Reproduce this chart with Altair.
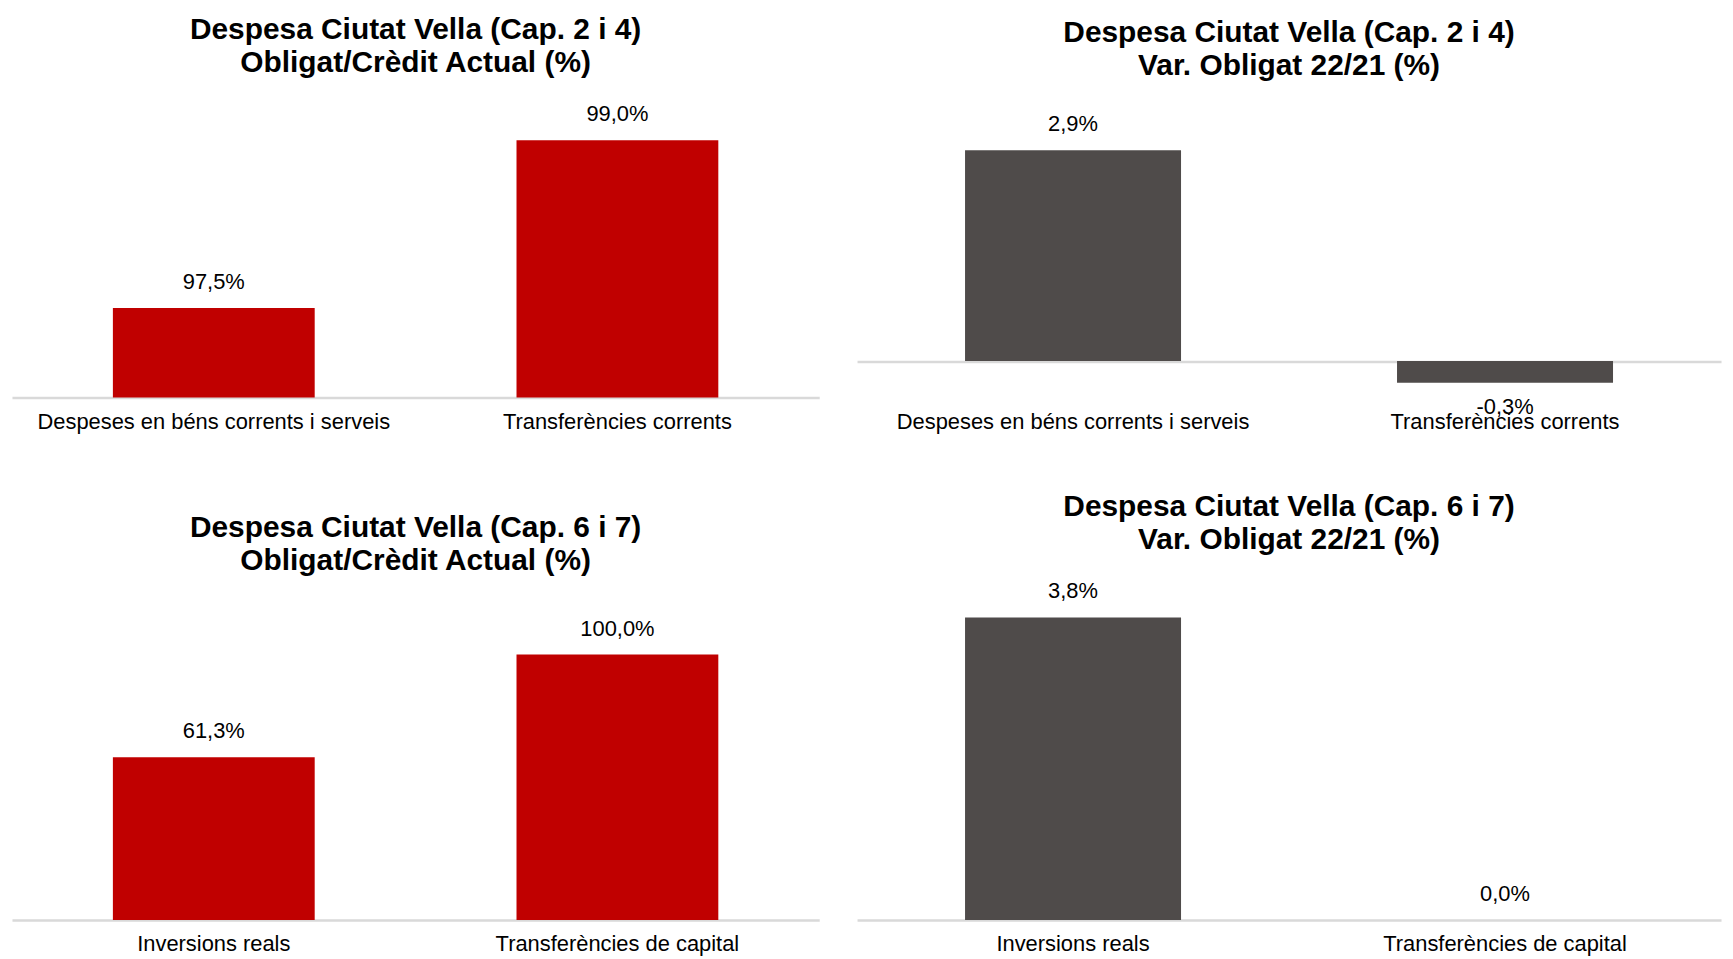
import altair as alt
import pandas as pd

# ---- data ----
cats_24 = ["Despeses en béns corrents i serveis", "Transferències corrents"]
cats_67 = ["Inversions reals", "Transferències de capital"]
ratio_24 = [97.5, 99.0]
var_24 = [2.9, -0.3]
ratio_67 = [61.3, 100.0]
var_67 = [3.8, 0.0]

title_24 = "Despesa Ciutat Vella (Cap. 2 i 4)"
title_67 = "Despesa Ciutat Vella (Cap. 6 i 7)"
sub_ratio = "Obligat/Crèdit Actual (%)"
sub_var = "Var. Obligat 22/21 (%)"

RED = "#C00000"
GREY = "#4F4B4A"
FONT = "Liberation Sans"


def fmt(v):
    return ("-" if v < 0 else "") + f"{abs(v):.1f}".replace(".", ",") + "%"


def panel(cats, vals, title1, title2, color, domain, baseline, width, height):
    df = pd.DataFrame({"cat": cats, "val": vals, "base": [baseline] * len(cats),
                       "label": [fmt(v) for v in vals]})
    df_pos = df[df["val"] >= 0]
    df_neg = df[df["val"] < 0]
    x = alt.X(
        "cat:N",
        scale=alt.Scale(domain=cats, paddingInner=0.5, paddingOuter=0.25),
        axis=alt.Axis(
            title=None, labelAngle=0, domain=False, ticks=False,
            labelFontSize=22, labelFont=FONT, labelColor="#000000",
            labelPadding=14, labelLimit=600,
        ),
    )
    y = alt.Y(
        "val:Q",
        scale=alt.Scale(domain=domain, zero=False, nice=False),
        axis=alt.Axis(
            values=[baseline], grid=True, gridColor="#D9D9D9", gridWidth=2.5,
            labels=False, ticks=False, domain=False, title=None,
        ),
    )
    layers = [
        alt.Chart(df).mark_bar(color=color).encode(x=x, y=y, y2="base:Q"),
        alt.Chart(df_pos).mark_text(
            dy=-26, fontSize=22, font=FONT, color="#000000", baseline="middle"
        ).encode(x=x, y=y, text="label:N"),
    ]
    if len(df_neg):
        layers.append(
            alt.Chart(df_neg).mark_text(
                dy=24, fontSize=22, font=FONT, color="#000000", baseline="middle"
            ).encode(x=x, y=y, text="label:N")
        )
    return alt.layer(*layers).properties(
        width=width,
        height=height,
        title=alt.TitleParams(
            text=[title1, title2], fontSize=30, font=FONT, fontWeight="bold",
            lineHeight=33, offset=26, anchor="middle", color="#000000",
        ),
    )


LW, RW = 811, 868
TH, BH = 292, 320

p1 = panel(cats_24, ratio_24, title_24, sub_ratio, RED, [96.7, 99.3], 96.7, LW, TH)
p2 = panel(cats_24, var_24, title_24, sub_var, GREY, [-0.5, 3.5], 0, RW, TH)
p3 = panel(cats_67, ratio_67, title_67, sub_ratio, RED, [0, 120], 0, LW, BH)
p4 = panel(cats_67, var_67, title_67, sub_var, GREY, [0, 4], 0, RW, BH)

top = alt.hconcat(p1, p2, spacing=38)
bottom = alt.hconcat(p3, p4, spacing=38)

chart = alt.vconcat(top, bottom, spacing=60).properties(padding=4).configure_view(stroke=None)

chart.save("out.html", embed_options={"renderer": "svg", "actions": False})
